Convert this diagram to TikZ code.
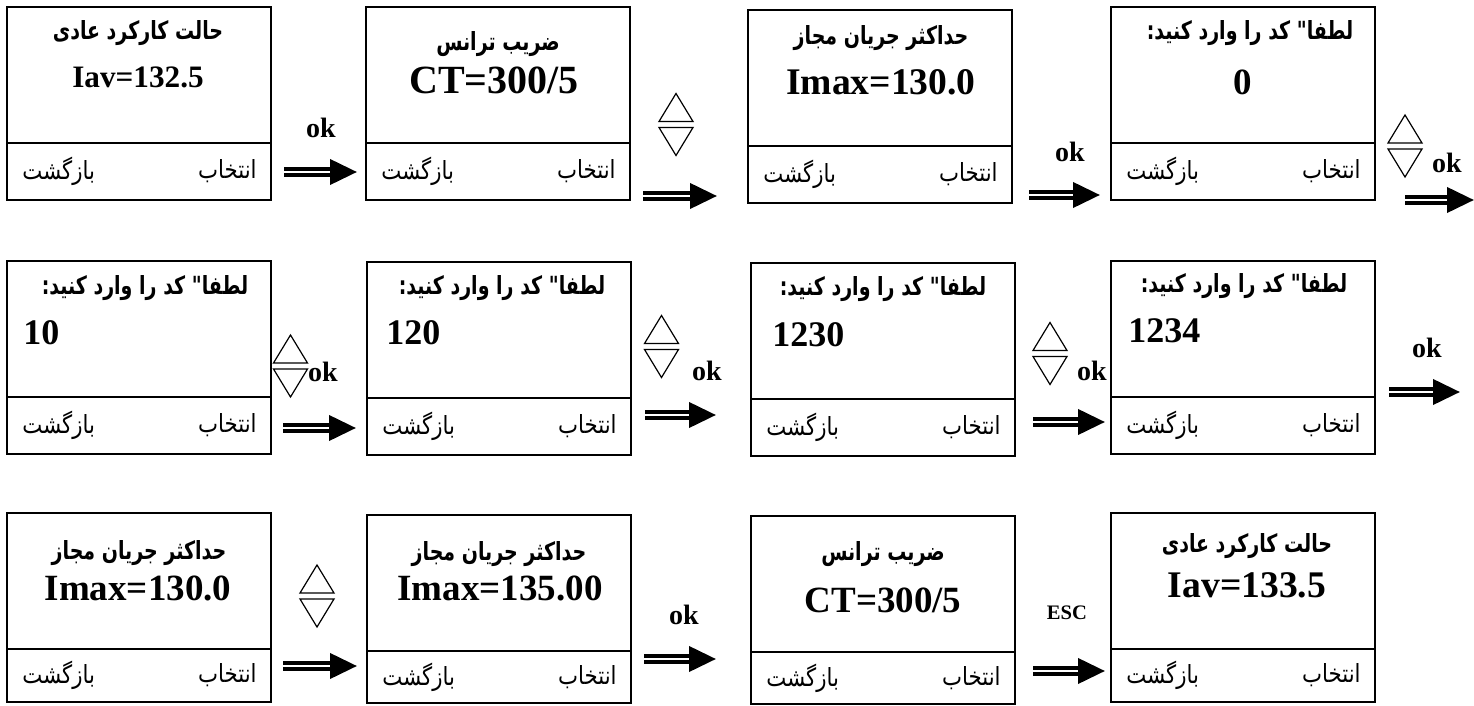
\documentclass[tikz,border=0pt]{standalone}
\usepackage{fontspec}
\setmainfont{Liberation Serif}
\newfontfamily\arabicfont[Script=Arabic,FakeStretch=0.76]{DejaVu Sans}
\newfontfamily\keyfont[Script=Arabic,FakeStretch=0.85]{DejaVu Sans}
\TeXXeTstate=1
\usetikzlibrary{arrows.meta}

\tikzset{
  scr/.style={draw,line width=1.2pt,minimum width=132pt,minimum height=68pt,inner sep=0pt,outer sep=0pt,anchor=north west},
  key/.style={draw,line width=1.2pt,minimum width=132pt,minimum height=#1,inner sep=0pt,outer sep=0pt,anchor=north},
  ttl/.style={font=\arabicfont\bfseries\fontsize{12.5}{14}\selectfont,inner sep=0pt},
  btn/.style={font=\keyfont\fontsize{12.5}{14}\selectfont,inner sep=0pt},
  val/.style={font=\bfseries\fontsize{#1}{#1}\selectfont,inner sep=0pt},
  lbl/.style={font=\bfseries\fontsize{14}{14}\selectfont,inner sep=0pt},
  go/.style={double,double distance=1.2pt,line width=2pt,-{Triangle[length=13.5pt,width=12.5pt]}},
  updn/.pic={\draw[line width=0.6pt] (-17,-3) -- (17,-3) -- (0,-31) -- cycle (-17,3) -- (17,3) -- (0,31) -- cycle;}
}

\begin{document}
\begin{tikzpicture}[x=0.5pt,y=-0.5pt]
        \useasboundingbox (0,0) rectangle (1474,706);
        %% Screens
        \foreach \n/\x/\y/\h in {11/7/7/28.5pt,12/366/7/28.5pt,13/748/10/28.5pt,14/1111/7/28.5pt,
                21/7/261/28.5pt,22/367/262/28.5pt,23/751/263/28.5pt,24/1111/261/28.5pt,
                31/7/513/26.5pt,32/367/515/26pt,33/751/516/26pt,34/1111/513/26.5pt}{
            \node[scr] (b\n) at (\x,\y) {};
            \node[key=\h] (k\n) at (b\n.south) {};
            \node[btn,anchor=west,xshift=7.5pt] (r\n) at (k\n.west) {\beginR بازگشت\endR};
            \node[btn,anchor=east,xshift=-7pt] (s\n) at (k\n.east) {\beginR انتخاب\endR};
        }
        %% Titles
        \node[ttl] (t11) at (138,33) {\beginR حالت کارکرد عادی\endR};
        \node[ttl] (t12) at (498,44) {\beginR ضریب ترانس\endR};
        \node[ttl] (t13) at (881,38) {\beginR حداکثر جریان مجاز\endR};
        \node[ttl] (t14) at (1250,33) {\beginR لطفا" کد را وارد کنید:\endR};
        \node[ttl] (t21) at (145,288) {\beginR لطفا" کد را وارد کنید:\endR};
        \node[ttl] (t22) at (502,288) {\beginR لطفا" کد را وارد کنید:\endR};
        \node[ttl] (t23) at (883,289) {\beginR لطفا" کد را وارد کنید:\endR};
        \node[ttl] (t24) at (1244,286) {\beginR لطفا" کد را وارد کنید:\endR};
        \node[ttl] (t31) at (139,553) {\beginR حداکثر جریان مجاز\endR};
        \node[ttl] (t32) at (499,554) {\beginR حداکثر جریان مجاز\endR};
        \node[ttl] (t33) at (883,554) {\beginR ضریب ترانس\endR};
        \node[ttl] (t34) at (1247,546) {\beginR حالت کارکرد عادی\endR};
        %% Values
        \node[val=15.6] (v11) at (138,77) {Iav=132.5};
        \node[val=20] (v12) at (494,80) {CT=300/5};
        \node[val=18.8] (v13) at (881,82) {Imax=130.0};
        \node[val=18.5] (v14) at (1243,82) {0};
        \node[val=18,anchor=west] (v21) at (23,333) {10};
        \node[val=18,anchor=west] (v22) at (386,333) {120};
        \node[val=18,anchor=west] (v23) at (772,335) {1230};
        \node[val=18,anchor=west] (v24) at (1128,331) {1234};
        \node[val=18.5] (v31) at (138,588) {Imax=130.0};
        \node[val=18.5] (v32) at (500,588) {Imax=135.00};
        \node[val=18.5] (v33) at (883,600) {CT=300/5};
        \node[val=18.8] (v34) at (1247,585) {Iav=133.5};
        %% Keys
        \node[lbl] (o1) at (321,128) {ok};
        \pic at (676,124.5) {updn};
        \node[lbl] (o2) at (1070,152) {ok};
        \pic at (1405,146) {updn};
        \node[lbl] (o3) at (1447,163) {ok};
        \pic at (290.5,366) {updn};
        \node[lbl] (o4) at (323,372) {ok};
        \pic at (661.5,346.5) {updn};
        \node[lbl] (o5) at (707,371) {ok};
        \pic at (1050,353.5) {updn};
        \node[lbl] (o6) at (1092,371) {ok};
        \node[lbl] (o7) at (1427,348) {ok};
        \pic at (317,596) {updn};
        \node[lbl] (o8) at (684,615) {ok};
        \node[lbl,font=\bfseries\fontsize{10.3}{10.3}\selectfont] (esc) at (1067,613) {ESC};
        %% Arrows
        \coordinate (p1) at (284,172);  \coordinate (q1) at (357,172);
        \coordinate (p2) at (643,196);  \coordinate (q2) at (717,196);
        \coordinate (p3) at (1029,195); \coordinate (q3) at (1100,195);
        \coordinate (p4) at (1405,200); \coordinate (q4) at (1474,200);
        \coordinate (p5) at (283,428);  \coordinate (q5) at (356,428);
        \coordinate (p6) at (645,415);  \coordinate (q6) at (716,415);
        \coordinate (p7) at (1033,422); \coordinate (q7) at (1105,422);
        \coordinate (p8) at (1389,392); \coordinate (q8) at (1460,392);
        \coordinate (p9) at (283,666);  \coordinate (q9) at (357,666);
        \coordinate (p10) at (644,659); \coordinate (q10) at (716,659);
        \coordinate (p11) at (1033,671); \coordinate (q11) at (1105,671);
        \foreach \i in {1,...,11} \draw[go] (p\i) -- (q\i);
    \end{tikzpicture}
\end{document}
